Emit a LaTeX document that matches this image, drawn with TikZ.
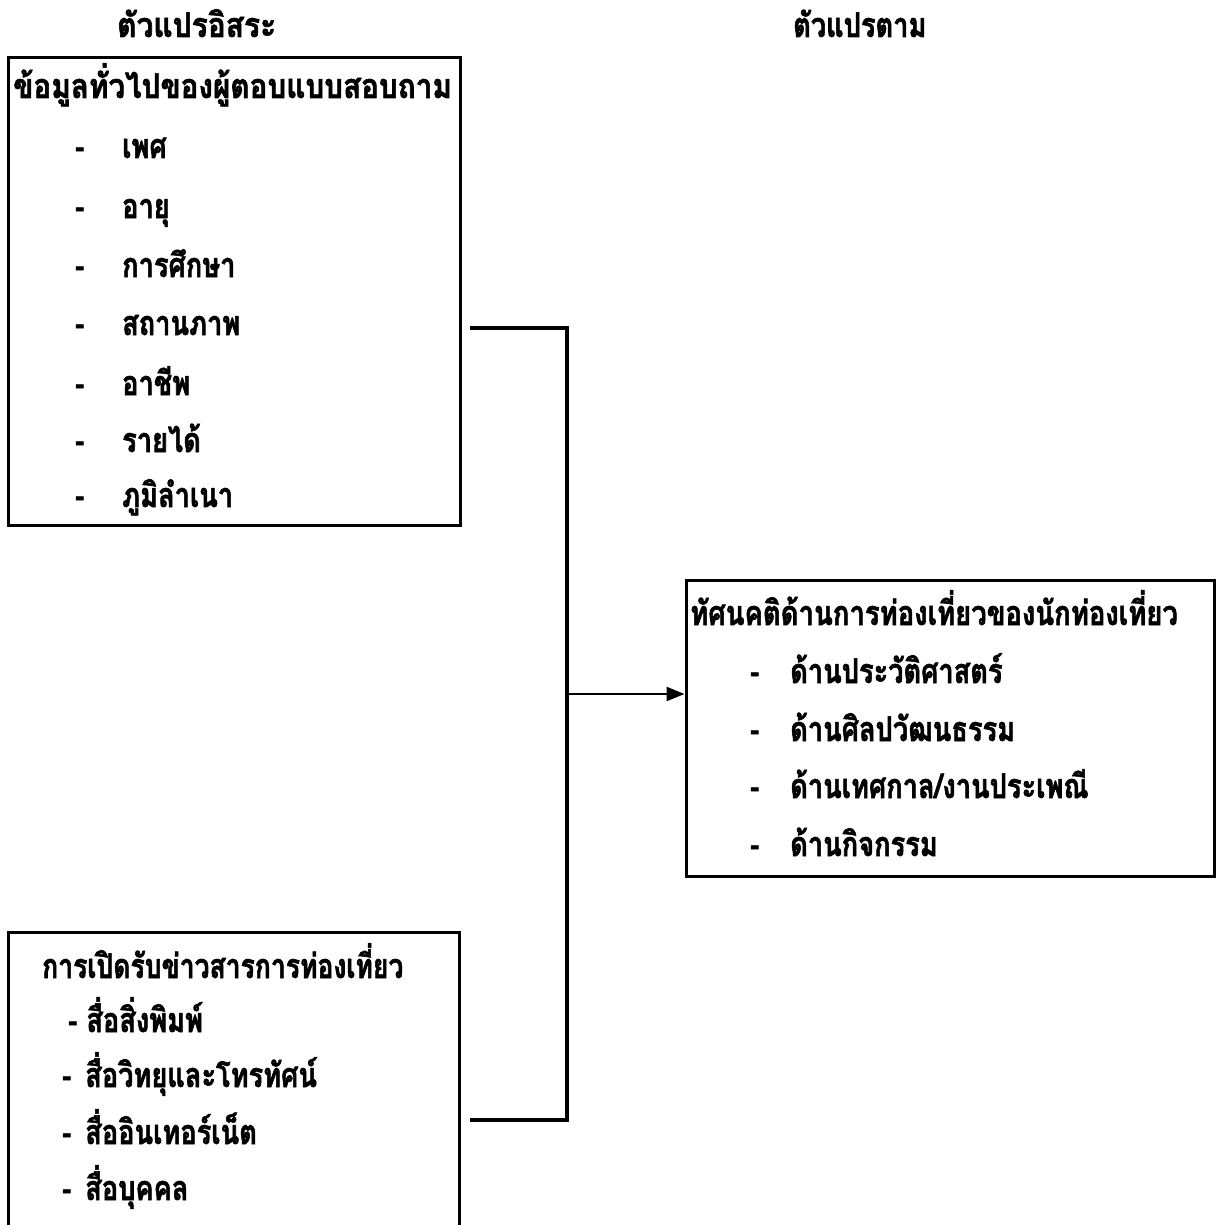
\documentclass[tikz,border=0pt]{standalone}
\usepackage{graphicx}
\usepackage{fontspec}
\setmainfont[Script=Thai,FakeStretch=0.8,BoldFeatures={FakeBold=1.6}]{Loma}
\usetikzlibrary{arrows.meta,calc}
\begin{document}
\begin{tikzpicture}[x=1pt,y=-1pt,
  box/.style={draw,line width=3pt,inner sep=0pt,rectangle},
  txt/.style={anchor=base west,inner sep=0pt,font=\fontsize{34}{40}\selectfont\bfseries},
  conn/.style={line width=3.2pt},
]
\useasboundingbox[fill=white] (0,0) rectangle (1218,1225);
\begin{scope}
\clip (0,0) rectangle (1218,1225);
% titles
\node[txt] (t1) at (117,37) {\scalebox{1.1}[1]{ตัวแปรอิสระ}};
\node[txt] (t2) at (793,37) {ตัวแปรตาม};
% box 1
\node[box,minimum width=452pt,minimum height=467pt] (indep) at (234,291.5) {};
\node[txt] (h1) at (13,98) {\scalebox{1.09}[1]{ข้อมูลทั่วไปของผู้ตอบแบบสอบถาม}};
\foreach \y/\t [count=\i] in {158/เพศ,218/อายุ,277/การศึกษา,335/สถานภาพ,395/อาชีพ,452/รายได้,507/ภูมิลำเนา}{
  \node[txt] (d1\i) at (75,\y) {-};
  \node[txt] (a\i) at (122,\y) {\t};
}
% box 3 (media)
\node[box,minimum width=451pt,minimum height=330pt] (media) at (233.5,1097) {};
\node[txt] (h3) at (42,978) {\scalebox{0.975}[1]{การเปิดรับข่าวสารการท่องเที่ยว}};
\node[txt] (m1) at (68,1032) {- สื่อสิ่งพิมพ์};
\node[txt] (m2) at (62,1087) {-\hspace{14pt}สื่อวิทยุและโทรทัศน์};
\node[txt] (m3) at (62,1144) {-\hspace{14pt}สื่ออินเทอร์เน็ต};
\node[txt] (m4) at (62,1200) {-\hspace{14pt}สื่อบุคคล};
% right box
\node[box,minimum width=528pt,minimum height=296pt] (dep) at (950,728) {};
\node[txt] (h2) at (690,625) {\scalebox{1.01}[1]{ทัศนคติด้านการท่องเที่ยวของนักท่องเที่ยว}};
\foreach \y/\t [count=\i] in {683/{ด้านประวัติศาสตร์},741/{ด้านศิลปวัฒนธรรม},798/{ด้านเทศกาล/งานประเพณี},856/{ด้านกิจกรรม}}{
  \node[txt] (d2\i) at (750,\y) {-};
  \node[txt] (b\i) at (790,\y) {\t};
}
% connectors
\coordinate (jt) at (567,328);
\coordinate (jb) at (567,1120);
\coordinate (ja) at (567,694);
\draw[conn] ($(indep.east|-jt)+(8,0)$) -- (jt) -- (jb) -- ($(media.east|-jb)+(9,0)$);
\draw[line width=2.4pt,-{Triangle[length=18pt,width=14pt]}] (ja) -- (dep.west|-ja);
\end{scope}
\end{tikzpicture}
\end{document}
